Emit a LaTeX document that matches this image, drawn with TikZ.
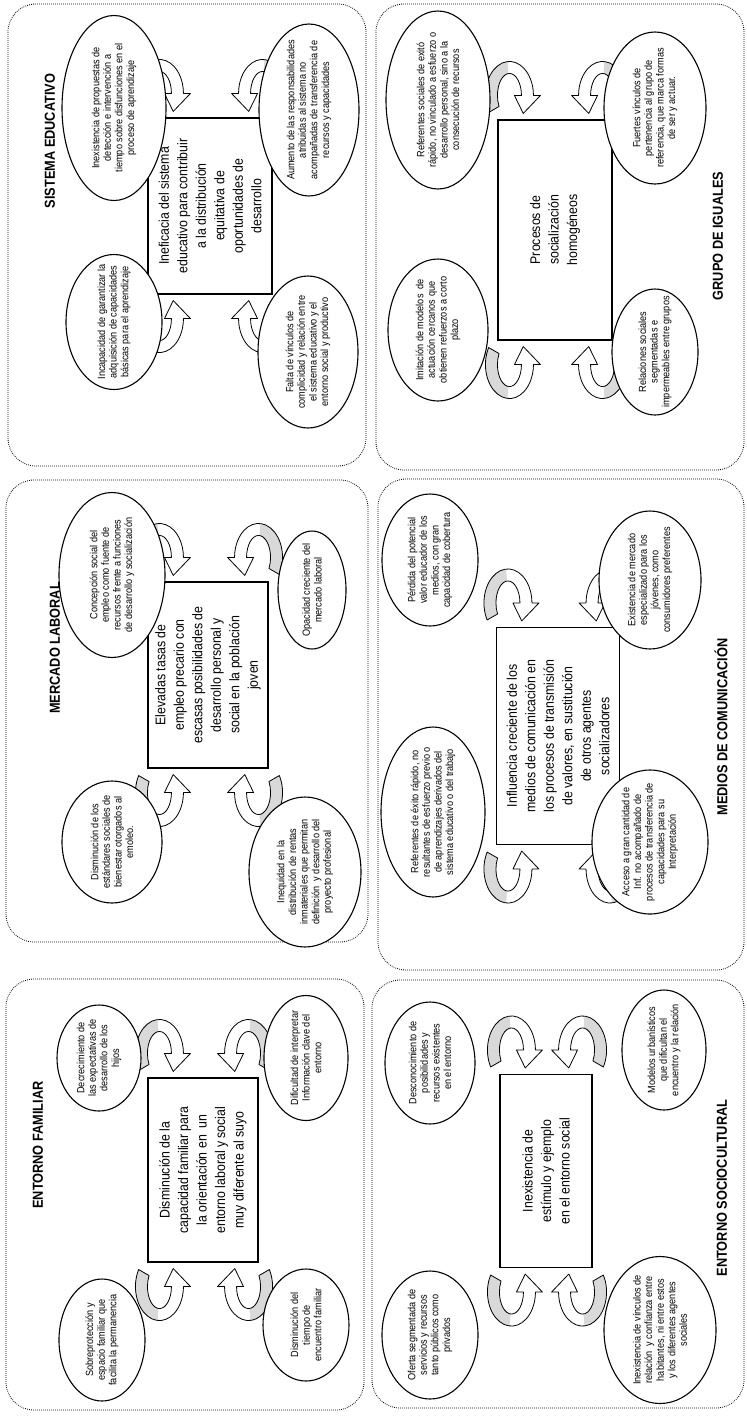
\documentclass[tikz,border=0pt]{standalone}
\usepackage{fontspec}
\setmainfont{Liberation Sans}[FakeStretch=0.88]
\usetikzlibrary{shapes.geometric,calc,backgrounds}
% elliptical bent block arrow
\newcommand\arrowpath[3]{(#1:24 and 34) arc[start angle=#1, end angle=#2, x radius=24, y radius=34] -- (#2:31 and 41) -- (#3:18 and 28) -- (#2:5 and 15) -- (#2:12 and 22) arc[start angle=#2, end angle=#1, x radius=12, y radius=22] -- cycle}
\newcommand\bentarrow[4]{%
  \pgfmathsetmacro\cmid{#2+0.55*(#3-#2)}%
  \begin{scope}[shift={#1}]
    \fill[white] \arrowpath{#2}{#3}{#4};
    \fill[tailfill] (#2:24 and 34) arc[start angle=#2, end angle=\cmid, x radius=24, y radius=34] -- (\cmid:12 and 22) arc[start angle=\cmid, end angle=#2, x radius=12, y radius=22] -- cycle;
    \draw[arrline] \arrowpath{#2}{#3}{#4};
  \end{scope}}
\newcommand\fourarrows[1]{%
  \bentarrow{($(#1.north east)+(12,-24)$)}{150}{360}{400}%
  \bentarrow{($(#1.north west)+(12,24)$)}{210}{0}{-40}%
  \bentarrow{($(#1.south east)+(-10,-24)$)}{30}{-180}{-220}%
  \bentarrow{($(#1.south west)+(-10,24)$)}{-30}{180}{220}}
\begin{document}
\begin{tikzpicture}[x=1pt,y=-1pt,
  ell/.style={ellipse, draw, line width=1.1pt, fill=white, rotate=90, align=center,
    inner xsep=-18pt, inner ysep=-6pt, font=\fontsize{10.4}{11.6}\selectfont},
  mainbox/.style={rectangle, draw, line width=1.1pt, fill=white, rotate=90, align=center,
    inner sep=2pt, font=\fontsize{14}{18.5}\selectfont},
  titlelbl/.style={rotate=90, font=\fontsize{14.5}{16}\selectfont\bfseries},
  blockframe/.style={draw, line width=0.8pt, dash pattern=on 0.8pt off 1.2pt, rounded corners=28pt},
  arrline/.style={line width=0.8pt, line join=round},
  tailfill/.style={fill=gray!30}
]
\begin{scope}[on background layer]
  \fill[white] (0,0) rectangle (747,1417);
\end{scope}
\useasboundingbox (0,0) rectangle (747,1417);

% ---------- frames ----------
\draw[blockframe] (8,4) rectangle (366,466);
\draw[blockframe] (6,480) rectangle (368,942);
\draw[blockframe] (6,979) rectangle (364,1410);
\draw[blockframe] (376,4) rectangle (744,470);
\draw[blockframe] (378,479) rectangle (744,970);
\draw[blockframe] (372,980) rectangle (744,1408);

% ---------- SISTEMA EDUCATIVO ----------
\node[titlelbl] (tse) at (50,141) {SISTEMA EDUCATIVO};
\node[mainbox, minimum width=176pt, minimum height=124pt] (seb) at (210,206)
  {Ineficacia del sistema\\educativo para contribuir\\a la distribución\\equitativa de\\oportunidades de\\desarrollo};
\node[ell, minimum width=185pt, minimum height=104pt] (se1) at (114,108)
  {Inexistencia de propuestas de\\detección e intervención a\\tiempo sobre disfunciones en el\\proceso de aprendizaje};
\node[ell, minimum width=135pt, minimum height=96pt] (se2) at (114,322)
  {Incapacidad de garantizar la\\adquisición de capacidades\\básicas para el aprendizaje};
\node[ell, minimum width=172pt, minimum height=100pt] (se3) at (309,110)
  {Aumento de las responsabilidades\\atribuidas al sistema no\\acompañadas de transferencia de\\recursos y capacidades};
\node[ell, minimum width=152pt, minimum height=100pt] (se4) at (308,352)
  {Falta de vínculos de\\complicidad y relación entre\\el sistema educativo y el\\entorno social y productivo};

% ---------- MERCADO LABORAL ----------
\node[titlelbl] (tml) at (55,648) {MERCADO LABORAL};
\node[mainbox, minimum width=186pt, minimum height=120pt] (mlb) at (208,675)
  {Elevadas tasas de\\empleo precario con\\escasas posibilidades de\\desarrollo personal y\\social en la población\\joven};
\node[ell, minimum width=165pt, minimum height=106pt] (ml1) at (112,575)
  {Concepción social del\\empleo como fuente de\\recursos frente a funciones\\de desarrollo y socialización};
\node[ell, minimum width=122pt, minimum height=100pt] (ml2) at (112,842)
  {Disminución de los\\estándares sociales de\\bienestar otorgados al\\emoleo.};
\node[ell, minimum width=118pt, minimum height=68pt] (ml3) at (312,590)
  {Opacidad creciente del\\mercado laboral};
\node[ell, minimum width=150pt, minimum height=112pt] (ml4) at (305,872)
  {Inequidad en la\\distribución de rentas\\inmateriales que permitan\\definición\ \ y desarrollo del\\proyecto profesional};

% ---------- ENTORNO FAMILIAR ----------
\node[titlelbl] (tef) at (38,1145) {ENTORNO FAMILIAR};
\node[mainbox, minimum width=184pt, minimum height=110pt] (efb) at (203,1170)
  {Disminución de la\\capacidad familiar para\\la orientación en\ \ un\\entorno laboral y social\\muy diferente al suyo};
\node[ell, minimum width=106pt, minimum height=84pt] (ef1) at (99,1058)
  {Decrecimiento de\\las expectativas de\\desarrollo de los\\hijos};
\node[ell, minimum width=122pt, minimum height=86pt] (ef2) at (102,1340)
  {Sobreprotección y\\espacio familiar que\\facilita la permanencia};
\node[ell, minimum width=125pt, minimum height=84pt] (ef3) at (306,1058)
  {Dificultad de interpretar\\Información clave del\\entorno};
\node[ell, minimum width=112pt, minimum height=86pt] (ef4) at (306,1325)
  {Disminución del\\tiempo de\\encuentro familiar};

% ---------- GRUPO DE IGUALES ----------
\node[titlelbl] (tgi) at (718,236) {GRUPO DE IGUALES};
\node[mainbox, minimum width=220pt, minimum height=114pt] (gib) at (555,230)
  {Procesos de\\socialización\\homogéneos};
\node[ell, minimum width=178pt, minimum height=104pt] (gi1) at (438,100)
  {Referentes sociales de exitó\\rápido, no vinculado a esfuerzo o\\desarrollo personal, sino a la\\consecución de recursos};
\node[ell, minimum width=142pt, minimum height=100pt] (gi2) at (438,330)
  {Imitación de modelos\ \ de\\actuación cercanos que\\obtienen refuerzos a corto\\plazo};
\node[ell, minimum width=152pt, minimum height=102pt] (gi3) at (655,108)
  {Fuertes vínculos de\\pertenencia al grupo de\\referencia, que marca formas\\de ser y actuar.};
\node[ell, minimum width=126pt, minimum height=86pt] (gi4) at (655,352)
  {Relaciones sociales\\segmentadas e\\impermeables entre grupos};

% ---------- MEDIOS DE COMUNICACION ----------
\node[titlelbl] (tmc) at (721,727) {MEDIOS DE COMUNICACIÓN};
\node[mainbox, minimum width=217pt, minimum height=123pt] (mcb) at (558,736)
  {Influencia creciente de los\\medios de comunicación en\\los procesos de transmisión\\de valores, en sustitución\\de otros agentes\\socializadores};
\node[ell, minimum width=132pt, minimum height=96pt] (mc1) at (430,560)
  {Pérdida del potencial\\valor educador de los\\medios, con gran\\capacidad de cobertura};
\node[ell, minimum width=170pt, minimum height=104pt] (mc2) at (433,812)
  {Referentes de éxito rápido, no\\resultantes de esfuerzo previo o\\de aprendizajes derivados del\\sistema educativo o del trabajo};
\node[ell, minimum width=138pt, minimum height=102pt] (mc3) at (650,580)
  {Existencia de mercado\\especializado para los\\jóvenes, como\\consumidores preferentes};
\node[ell, minimum width=144pt, minimum height=116pt] (mc4) at (650,842)
  {Acceso a gran cantidad de\\Inf. no acompañado de\\procesos de transferencia de\\capacidades para su\\Interpretación};

% ---------- ENTORNO SOCIOCULTURAL ----------
\node[titlelbl] (tes) at (722,1188) {ENTORNO SOCIOCULTURAL};
\node[mainbox, minimum width=193pt, minimum height=92pt] (esb) at (546,1171)
  {Inexistencia de\\estímulo y ejemplo\\en el entorno social};
\node[ell, minimum width=122pt, minimum height=90pt] (es1) at (430,1063)
  {Desconocimiento de\\posibilidades y\\recursos existentes\\en el entorno};
\node[ell, minimum width=128pt, minimum height=96pt] (es2) at (430,1335)
  {Oferta segmentada de\\servicios y recursos\\tanto públicos como\\privados};
\node[ell, minimum width=120pt, minimum height=84pt] (es3) at (664,1050)
  {Modelos urbanísticos\\que dificultan el\\encuentro y la relación};
\node[ell, minimum width=147pt, minimum height=112pt] (es4) at (660,1330)
  {Inexistencia de vínculos de\\relación\ \ y confianza entre\\habitantes, ni entre estos\\y los diferentes agentes\\sociales};

% ---------- curved arrows ----------
\begin{scope}[on background layer]
  \fourarrows{seb}
  \fourarrows{mlb}
  \fourarrows{efb}
  \fourarrows{gib}
  \fourarrows{mcb}
  \fourarrows{esb}
\end{scope}
\end{tikzpicture}
\end{document}
